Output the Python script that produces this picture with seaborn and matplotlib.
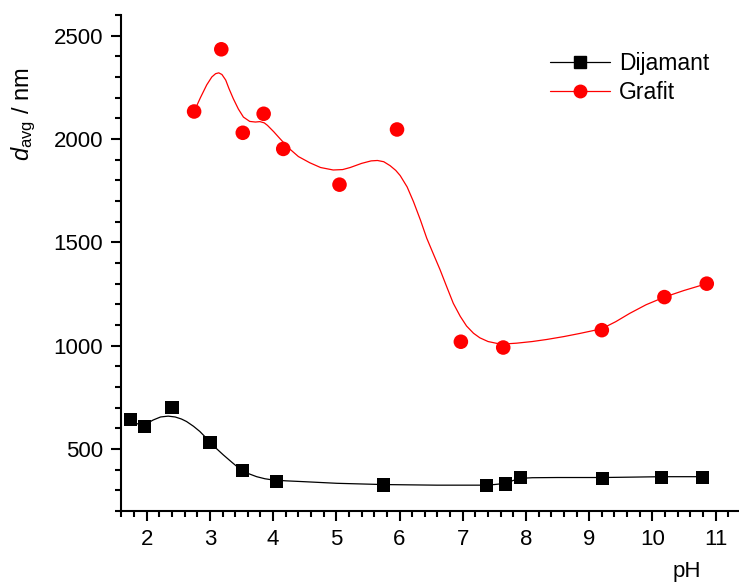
import numpy as np
import pandas as pd
import matplotlib
matplotlib.use("Agg")
import matplotlib.pyplot as plt
import seaborn as sns
from matplotlib.lines import Line2D
from matplotlib.ticker import MultipleLocator

# measured points
dij_ph = [1.74, 1.97, 2.40, 3.00, 3.52, 4.05, 5.74, 7.38, 7.68, 7.91, 9.21, 10.15, 10.79]
dij_d = [642, 609, 700, 533, 396, 342, 326, 323, 331, 364, 359, 364, 364]

gra_ph = [2.75, 3.18, 3.52, 3.85, 4.16, 5.05, 5.96, 6.97, 7.64, 9.20, 10.19, 10.86]
gra_d = [2133, 2434, 2030, 2122, 1952, 1779, 2046, 1019, 991, 1075, 1235, 1300]

# smoothed fit curves
dij_fit_ph = [1.74, 1.85, 1.97, 2.10, 2.22, 2.34, 2.45, 2.55, 2.63, 2.74, 2.84, 2.92,
              3.00, 3.10, 3.21, 3.35, 3.48, 3.60, 3.74, 3.87, 4.00, 4.20, 4.48, 5.01,
              5.74, 6.59, 7.32, 7.50, 7.68, 7.80, 7.91, 8.10, 8.50, 9.21, 9.70, 10.15, 10.79]
dij_fit_d = [635, 622, 617, 640, 655, 659, 655, 645, 633, 610, 585, 560,
             536, 503, 472, 435, 402, 382, 366, 356, 350, 346, 342, 334,
             328, 325, 325, 328, 334, 348, 358, 361, 362, 362, 364, 366, 366]

gra_fit_ph = [2.75, 2.85, 2.95, 3.03, 3.09, 3.14, 3.19, 3.25, 3.30, 3.37, 3.45, 3.53,
              3.63, 3.72, 3.79, 3.86, 3.91, 4.01, 4.11, 4.25, 4.40, 4.58, 4.75, 4.95,
              5.10, 5.22, 5.40, 5.55, 5.65, 5.75, 5.85, 5.94, 6.01, 6.12, 6.22, 6.33,
              6.43, 6.54, 6.64, 6.75, 6.85, 6.96, 7.06, 7.17, 7.27, 7.40, 7.54, 7.70,
              7.85, 8.10, 8.33, 8.60, 8.85, 9.05, 9.20, 9.42, 9.64, 9.90, 10.19, 10.50,
              10.86]
gra_fit_d = [2133, 2200, 2262, 2300, 2316, 2320, 2312, 2285, 2245, 2195, 2145, 2106,
             2085, 2082, 2084, 2078, 2066, 2035, 2001, 1955, 1915, 1885, 1862, 1850,
             1852, 1862, 1882, 1894, 1896, 1890, 1871, 1848, 1823, 1768, 1697, 1608,
             1520, 1440, 1368, 1282, 1205, 1142, 1095, 1060, 1038, 1020, 1011, 1009,
             1012, 1020, 1030, 1044, 1059, 1072, 1082, 1116, 1156, 1198, 1235, 1267,
             1300]

sns.set_style("ticks")
plt.rcParams["font.family"] = ["Liberation Sans", "DejaVu Sans"]
plt.rcParams["mathtext.fontset"] = "custom"
plt.rcParams["mathtext.rm"] = "Liberation Sans"
plt.rcParams["mathtext.it"] = "Liberation Sans:italic"
for key in ["text.color", "axes.labelcolor", "xtick.color", "ytick.color"]:
    plt.rcParams[key] = "black"

fig = plt.figure(figsize=(7.39, 5.83), dpi=100)
ax = fig.add_axes([0.1643, 0.1235, 0.8357, 0.8508])

sns.lineplot(x=dij_fit_ph, y=dij_fit_d, color="black", linewidth=0.9, ax=ax)
sns.lineplot(x=gra_fit_ph, y=gra_fit_d, color="red", linewidth=0.9, ax=ax)
sns.scatterplot(x=dij_ph, y=dij_d, marker="s", s=90, color="black", edgecolor="none", ax=ax, zorder=3)
sns.scatterplot(x=gra_ph, y=gra_d, marker="o", s=110, color="red", edgecolor="none", ax=ax, zorder=3)

ax.set_xlim(1.6, 11.37)
ax.set_ylim(200, 2600)
ax.xaxis.set_major_locator(MultipleLocator(1))
ax.xaxis.set_minor_locator(MultipleLocator(0.2))
ax.yaxis.set_major_locator(MultipleLocator(500))
ax.yaxis.set_minor_locator(MultipleLocator(100))
ax.tick_params(which="major", direction="out", length=7, width=1.5, labelsize=16, pad=6)
ax.tick_params(which="minor", direction="out", length=4, width=1.5)

sns.despine(ax=ax)
for side in ["left", "bottom"]:
    ax.spines[side].set_linewidth(1.5)
    ax.spines[side].set_color("black")

ax.set_xlabel("pH", fontsize=16)
ax.xaxis.set_label_coords(0.916, -0.10)
ax.set_ylabel(r"$d_{\mathrm{avg}}$ / nm", fontsize=17)
ax.yaxis.set_label_coords(-0.135, 0.80)

handles = [
    Line2D([], [], color="black", linewidth=0.9, marker="s", markersize=8),
    Line2D([], [], color="red", linewidth=0.9, marker="o", markersize=9),
]
ax.legend(handles, ["Dijamant", "Grafit"], loc="upper right", bbox_to_anchor=(0.985, 0.967),
          frameon=False, fontsize=16.5, handlelength=2.6, handletextpad=0.4, labelspacing=0.25)

fig.savefig("out.png", dpi=100)
